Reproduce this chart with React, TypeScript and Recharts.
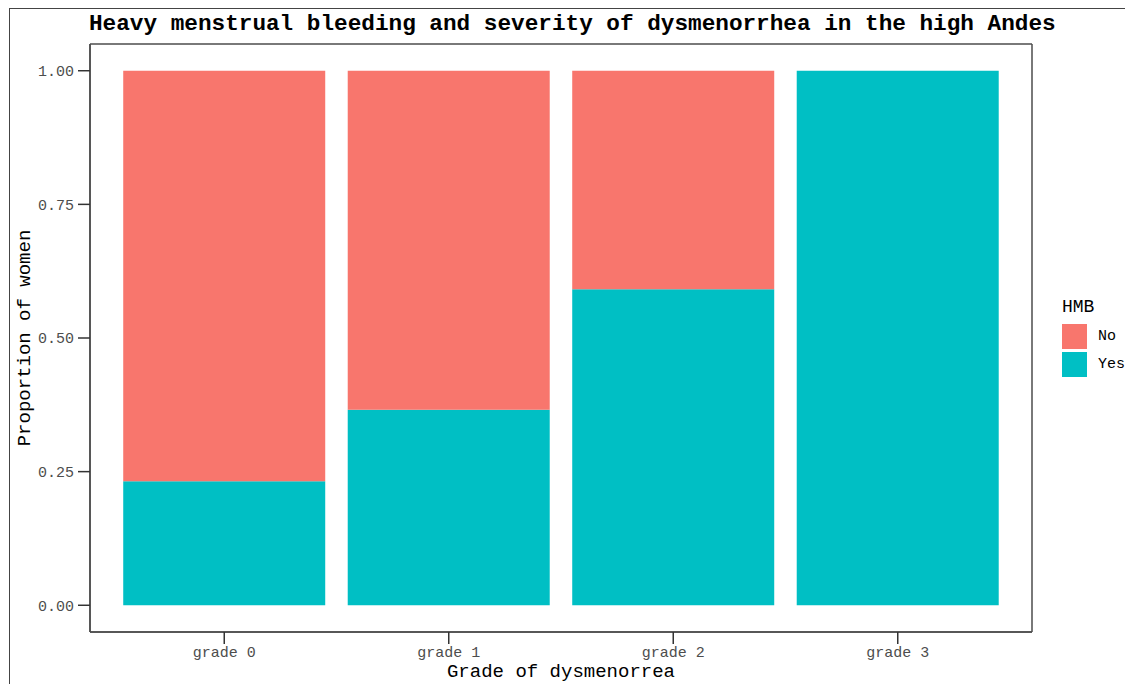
// App.tsx
// Stacked proportion bars: heavy menstrual bleeding (HMB) by dysmenorrhea grade.

import { BarChart, Bar, XAxis, YAxis, CartesianGrid } from "recharts";

// ── Data ────────────────────────────────────────────────────────────────────

const GRADES = ["grade 0", "grade 1", "grade 2", "grade 3"];
const YES = [0.232, 0.366, 0.591, 1.0];
const NO = [0.768, 0.634, 0.409, 0.0];
const Y_TICKS = [0, 0.25, 0.5, 0.75, 1];

const SERIES = ["No", "Yes"];
const PALETTE: Record<string, string> = { No: "#F8766D", Yes: "#00BFC4" };

const TITLE = "Heavy menstrual bleeding and severity of dysmenorrhea in the high Andes";
const X_TITLE = "Grade of dysmenorrea";
const Y_TITLE = "Proportion of women";
const LEGEND_TITLE = "HMB";

// ── Styling ─────────────────────────────────────────────────────────────────

const MONO = '"Liberation Mono", "Courier New", monospace';
const W = 1125;
const H = 676;
const AXIS_TICK = { fontSize: 15, fill: "#4d4d4d", fontFamily: MONO };
const EDGE = "#4d4d4d";

const chartData = GRADES.map((g, i) => ({ name: g, Yes: YES[i], No: NO[i] }));

export default function App() {
  return (
    <div style={{ position: "relative", width: W, height: H, background: "#fff", fontFamily: MONO }}>
      {/* outer frame (top/left edges of the exported image) */}
      <div
        style={{
          position: "absolute", left: 1, top: 0, right: 0, bottom: 0,
          borderLeft: "1px solid #444", borderTop: "1.5px solid #444", pointerEvents: "none",
        }}
      />
      <div
        style={{
          position: "absolute", left: 81, top: 5, fontSize: 22.7, lineHeight: "23px",
          fontWeight: "bold", color: "#000", whiteSpace: "nowrap",
        }}
      >
        {TITLE}
      </div>

      <BarChart
        width={W}
        height={H}
        data={chartData}
        margin={{ top: 36, right: 101, left: 10, bottom: 0 }}
        barCategoryGap="5%"
      >
        <CartesianGrid
          stroke={EDGE}
          strokeWidth={1.5}
          horizontalCoordinatesGenerator={({ offset }: any) => [offset.top, offset.top + offset.height]}
          verticalCoordinatesGenerator={({ offset }: any) => [offset.left, offset.left + offset.width]}
        />
        <XAxis
          dataKey="name"
          height={52}
          padding={{ left: 22, right: 22 }}
          tick={AXIS_TICK}
          tickSize={12}
          tickMargin={2}
          axisLine={{ stroke: EDGE, strokeWidth: 1.5 }}
          tickLine={{ stroke: "#333", strokeWidth: 1.5 }}
          label={{
            content: ({ viewBox }: any) => (
              <text
                x={viewBox.x + viewBox.width / 2}
                y={viewBox.y + 40}
                textAnchor="middle"
                dominantBaseline="central"
                style={{ fontSize: 19, fontFamily: MONO, fill: "#000" }}
              >
                {X_TITLE}
              </text>
            ),
          }}
        />
        <YAxis
          type="number"
          width={72}
          domain={[-0.05, 1.05]}
          ticks={Y_TICKS}
          tickFormatter={(v: number) => v.toFixed(2)}
          tick={AXIS_TICK}
          tickSize={12}
          tickMargin={4}
          axisLine={{ stroke: EDGE, strokeWidth: 1.5 }}
          tickLine={{ stroke: "#333", strokeWidth: 1.5 }}
          label={{
            content: ({ viewBox }: any) => {
              const cx = viewBox.x + 7;
              const cy = viewBox.y + viewBox.height / 2;
              return (
                <text
                  x={cx}
                  y={cy}
                  transform={`rotate(-90 ${cx} ${cy})`}
                  textAnchor="middle"
                  dominantBaseline="central"
                  style={{ fontSize: 19, fontFamily: MONO, fill: "#000" }}
                >
                  {Y_TITLE}
                </text>
              );
            },
          }}
        />
        <Bar dataKey="Yes" stackId="hmb" fill={PALETTE.Yes} isAnimationActive={false} />
        <Bar dataKey="No" stackId="hmb" fill={PALETTE.No} isAnimationActive={false} />
      </BarChart>

      {/* legend */}
      <div style={{ position: "absolute", left: 1054, top: 289 }}>
        <div style={{ fontSize: 18, lineHeight: "20px", color: "#000", marginBottom: 7 }}>{LEGEND_TITLE}</div>
        {SERIES.map((s) => (
          <div key={s} style={{ display: "flex", alignItems: "center", height: 25, marginBottom: 2.5 }}>
            <div style={{ width: 25, height: 25, background: PALETTE[s] }} />
            <span style={{ marginLeft: 11, fontSize: 15, color: "#000" }}>{s}</span>
          </div>
        ))}
      </div>
    </div>
  );
}
